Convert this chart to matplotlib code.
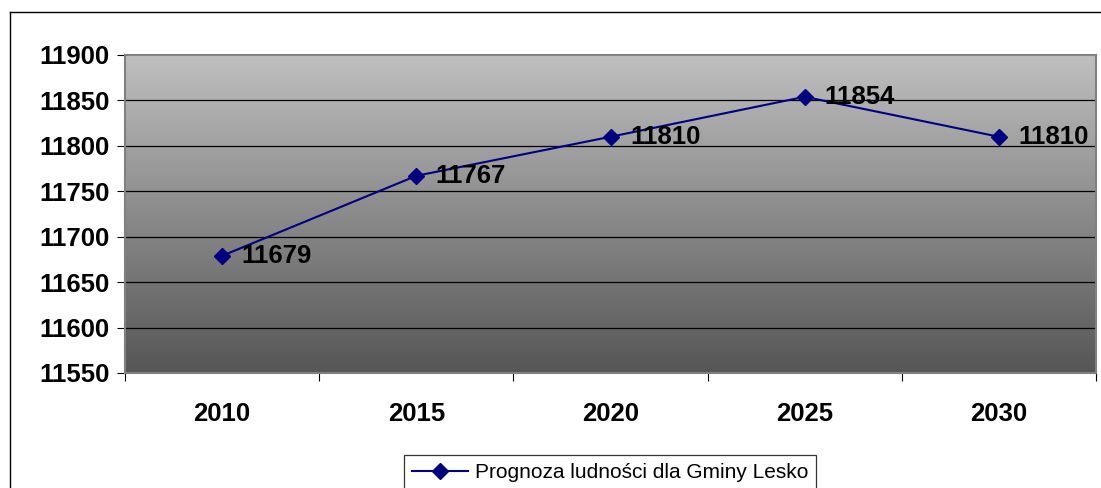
import numpy as np
import matplotlib.pyplot as plt
from matplotlib.lines import Line2D
from matplotlib.colors import LinearSegmentedColormap

years = ["2010", "2015", "2020", "2025", "2030"]
population = [11679, 11767, 11810, 11854, 11810]
y_ticks = [11550, 11600, 11650, 11700, 11750, 11800, 11850, 11900]
series_name = "Prognoza ludności dla Gminy Lesko"

plt.rcParams['font.family'] = ['Liberation Sans', 'DejaVu Sans']

W, H = 1101, 488
fig = plt.figure(figsize=(W / 100, H / 100), dpi=100)
fig.patch.set_facecolor("white")

ax = fig.add_axes([125 / W, 1 - 373 / H, (1096 - 125) / W, (373 - 55) / H])

# gradient background: light grey at top, dark grey at bottom
cmap = LinearSegmentedColormap.from_list("bg", ["#bfbfbf", "#565656"])
grad = np.linspace(0, 1, 256).reshape(-1, 1)
ax.imshow(grad, cmap=cmap, aspect="auto", extent=[0, 1, 0, 1],
          transform=ax.transAxes, zorder=0)

x = np.arange(len(years))
ax.set_xlim(-0.5, len(years) - 0.5)
ax.set_ylim(y_ticks[0], y_ticks[-1])

for yv in y_ticks[1:-1]:
    ax.axhline(yv, color="black", linewidth=0.9, zorder=1)

ax.plot(x, population, color="#000080", linewidth=1.5, marker="D",
        markersize=8, markerfacecolor="#000080", markeredgecolor="#000080",
        zorder=3, label=series_name)

for xi, v in zip(x, population):
    ax.annotate(str(v), (xi, v), xytext=(14, 0), textcoords="offset points",
                ha="left", va="center", fontsize=18.5, fontweight="bold",
                color="black", zorder=4)

ax.set_yticks(y_ticks)
ax.set_yticklabels([str(t) for t in y_ticks], fontsize=18.5, fontweight="bold")
ax.set_xticks(x)
ax.set_xticklabels(years, fontsize=18.5, fontweight="bold")
ax.tick_params(axis="x", which="major", length=0, pad=21)
ax.set_xticks(np.arange(-0.5, len(years), 1.0), minor=True)
ax.tick_params(axis="x", which="minor", length=6, color="black", width=0.8)
ax.tick_params(axis="y", length=6, color="black", width=0.8, pad=5)

for side in ["top", "right", "left", "bottom"]:
    ax.spines[side].set_color("#808080")
    ax.spines[side].set_linewidth(1.5)

leg = ax.legend(loc="upper center", bbox_to_anchor=(610 / W, 1 - 455 / H),
                bbox_transform=fig.transFigure, frameon=True, fancybox=False,
                fontsize=15, handlelength=2.7, borderpad=0.4,
                handletextpad=0.3, borderaxespad=0)
leg.get_frame().set_edgecolor("black")
leg.get_frame().set_linewidth(0.9)

# outer chart frame (left and top edges visible)
fig.add_artist(Line2D([10 / W, 10 / W], [0, 1 - 12 / H], color="black",
                      linewidth=1.0, transform=fig.transFigure))
fig.add_artist(Line2D([10 / W, 1], [1 - 12 / H, 1 - 12 / H], color="black",
                      linewidth=1.0, transform=fig.transFigure))

fig.savefig("out.png", dpi=100)
